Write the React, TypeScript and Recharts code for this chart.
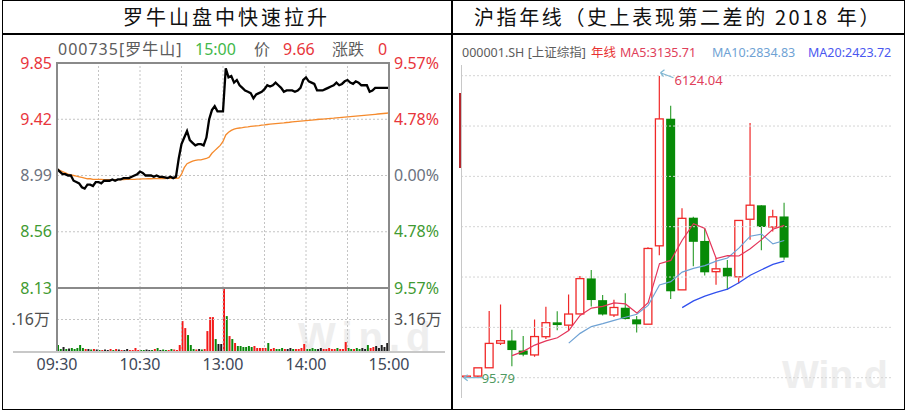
import React from 'react';
import {
  ComposedChart, LineChart, BarChart, Line, Bar, Cell, XAxis, YAxis, ReferenceLine, ReferenceDot,
} from 'recharts';

// ---- left panel: 000735 intraday, two-minute samples from 09:30 ----
const PRICE = [
  9.04, 9.02, 9.00, 9.00, 8.99, 8.99, 8.95, 8.94, 8.93, 8.90,
  8.89, 8.92, 8.92, 8.91, 8.94, 8.94, 8.93, 8.95, 8.95, 8.95,
  8.96, 8.95, 8.96, 8.96, 8.97, 8.97, 8.97, 8.98, 8.99, 9.00,
  9.02, 9.01, 8.99, 8.99, 8.99, 8.98, 8.99, 8.98, 8.98, 8.975,
  8.97, 8.98, 8.97, 8.98, 9.12, 9.23, 9.28, 9.33, 9.26, 9.24,
  9.22, 9.23, 9.23, 9.22, 9.28, 9.42, 9.49, 9.52, 9.48, 9.48,
  9.48, 9.81, 9.74, 9.75, 9.70, 9.72, 9.68, 9.66, 9.64, 9.63,
  9.62, 9.58, 9.61, 9.62, 9.63, 9.65, 9.68, 9.67, 9.68, 9.70,
  9.68, 9.66, 9.63, 9.64, 9.64, 9.64, 9.63, 9.64, 9.66, 9.72,
  9.74, 9.71, 9.70, 9.69, 9.64, 9.64, 9.64, 9.65, 9.66, 9.67,
  9.68, 9.70, 9.68, 9.69, 9.71, 9.72, 9.70, 9.69, 9.71, 9.70,
  9.68, 9.68, 9.68, 9.63, 9.64, 9.66, 9.66, 9.66, 9.66, 9.66,
  9.66,
];

const AVG_PRICE = [
  9.04, 9.03, 9.02, 9.01, 9.00, 8.995, 8.99, 8.985, 8.98, 8.975,
  8.97, 8.965, 8.965, 8.96, 8.96, 8.96, 8.96, 8.958, 8.958, 8.958,
  8.958, 8.958, 8.958, 8.958, 8.958, 8.96, 8.96, 8.96, 8.96, 8.962,
  8.962, 8.964, 8.964, 8.965, 8.965, 8.966, 8.966, 8.967, 8.967, 8.967,
  8.968, 8.968, 8.968, 8.969, 8.97, 9.00, 9.05, 9.08, 9.09, 9.10,
  9.105, 9.11, 9.11, 9.115, 9.12, 9.13, 9.16, 9.18, 9.20, 9.22,
  9.25, 9.30, 9.32, 9.335, 9.345, 9.35, 9.353, 9.356, 9.36, 9.362,
  9.365, 9.368, 9.37, 9.372, 9.375, 9.377, 9.38, 9.382, 9.384, 9.386,
  9.388, 9.39, 9.392, 9.395, 9.397, 9.40, 9.402, 9.404, 9.406, 9.408,
  9.41, 9.412, 9.414, 9.416, 9.418, 9.42, 9.421, 9.423, 9.425, 9.427,
  9.428, 9.43, 9.432, 9.434, 9.436, 9.438, 9.44, 9.442, 9.444, 9.446,
  9.448, 9.45, 9.452, 9.454, 9.456, 9.458, 9.46, 9.462, 9.464, 9.466,
  9.468,
];

// 万手 per two-minute bucket
const VOLUME = [
  0.6, 0.2, 0.4, 0.2, 0.25, 0.3, 0.2, 0.3, 0.6, 0.3, 0.2, 0.2, 0.15, 0.2, 0.15, 0.1,
  0.1, 0.15, 0.1, 0.2, 0.1, 0.2, 0.15, 0.1, 0.1, 0.2, 0.1, 0.1, 0.3, 0.1,
  0.1, 0.1, 0.15, 0.1, 0.1, 0.2, 0.3, 0.1, 0.15, 0.1, 0.1, 0.2, 0.15, 0.1,
  0.6, 3.0, 2.3, 1.6, 0.6, 0.2, 0.15, 0.2, 0.15, 0.2, 2.0, 3.4, 3.4, 1.2, 0.7, 0.7,
  6.3, 3.5, 1.5, 1.2, 0.8, 0.5, 0.5, 0.4, 0.4, 0.5, 0.4, 0.5, 0.3, 0.3, 0.3, 0.3,
  0.8, 0.2, 0.3, 0.2, 0.2, 0.3, 0.2, 0.2, 0.3, 0.2, 0.2, 0.2, 0.3, 0.7, 0.2, 0.2,
  0.3, 0.2, 0.2, 0.3, 0.2, 0.2, 0.3, 0.2, 0.2, 0.3, 0.2, 0.2, 0.9, 0.3, 0.2, 0.2,
  0.3, 0.2, 0.3, 0.2, 0.6, 0.3, 0.4, 0.5, 0.3, 0.6, 0.4, 0.8,
];

const PREV_CLOSE = 8.99;
const PRICE_TICKS = [8.13, 8.56, 8.99, 9.42, 9.85];
const PCT_LABELS = ['9.57%', '4.78%', '0.00%', '4.78%', '9.57%'];
const TIME_TICKS = [0, 60, 120, 180, 240];
const TIME_LABELS = ['09:30', '10:30', '13:00', '14:00', '15:00'];
const GRID_MINUTES = [30, 60, 90, 120, 150, 180, 210];
const VOL_MAX = 6.32;
const VOL_TICK = 3.16;

// ---- right panel: Shanghai Composite yearly candles ----
const YEARS = [
  1990, 1991, 1992, 1993, 1994, 1995, 1996, 1997, 1998, 1999,
  2000, 2001, 2002, 2003, 2004, 2005, 2006, 2007, 2008, 2009,
  2010, 2011, 2012, 2013, 2014, 2015, 2016, 2017, 2018,
];
const OPEN = [
  96.05, 127.61, 293.74, 784.13, 837.7, 637.72, 550.26, 914.06, 1200.95, 1144.89,
  1368.69, 2077.08, 1643.48, 1347.43, 1492.72, 1260.78, 1163.88, 2728.19, 5265.0, 1849.02,
  3289.75, 2825.33, 2212.0, 2289.51, 2109.39, 3258.63, 3536.59, 3105.31, 3314.03,
];
const HIGH = [
  127.61, 292.75, 1429.01, 1558.95, 1052.94, 926.41, 1258.69, 1510.18, 1422.98, 1756.18,
  2125.72, 2245.43, 1748.89, 1649.6, 1783.01, 1328.53, 2698.9, 6124.04, 5522.78, 3478.01,
  3306.75, 3067.46, 2478.38, 2444.8, 3239.36, 5178.19, 3538.69, 3450.49, 3587.03,
];
const LOW = [
  95.79, 104.96, 292.76, 750.46, 325.89, 524.43, 512.83, 870.18, 1043.02, 1047.83,
  1361.21, 1514.86, 1339.2, 1307.4, 1259.43, 998.23, 1161.91, 2541.52, 1664.93, 1844.09,
  2319.74, 2134.02, 1949.46, 1849.65, 1974.38, 2850.71, 2638.3, 3016.53, 2449.2,
];
const CLOSE = [
  127.61, 292.75, 780.39, 833.8, 647.87, 555.29, 917.02, 1194.1, 1146.7, 1366.58,
  2073.48, 1645.97, 1357.65, 1497.04, 1266.5, 1161.06, 2675.47, 5261.56, 1820.81, 3277.14,
  2808.08, 2199.42, 2269.13, 2115.98, 3234.68, 3539.18, 3103.64, 3307.17, 2493.9,
];
const MA5 = [
  null, null, null, null, 536.5, 622.0, 746.9, 829.6, 892.2, 1035.9,
  1339.6, 1485.4, 1518.1, 1588.1, 1568.1, 1385.6, 1591.5, 2372.3, 2437.1, 2839.2,
  3168.6, 3073.4, 2474.9, 2534.0, 2525.5, 2671.7, 2852.5, 3060.1, 3135.7,
];
const MA10 = [
  null, null, null, null, null, null, null, null, null, 786.2,
  980.8, 1116.1, 1173.8, 1240.2, 1302.0, 1362.6, 1538.5, 1945.2, 2012.6, 2203.7,
  2277.1, 2332.5, 2423.6, 2485.5, 2682.3, 2920.1, 2963.0, 2767.5, 2834.8,
];
const MA20 = [
  null, null, null, null, null, null, null, null, null, null,
  null, null, null, null, null, null, null, null, null, 1494.9,
  1629.0, 1724.3, 1798.7, 1862.8, 1992.2, 2141.4, 2250.7, 2356.4, 2423.7,
];
const Y_MIN = 95.79;
const Y_MAX = 6124.04;
const Y_GRID = [95.79, 1100.5, 2105.2, 3110.0, 4114.7, 5119.3, 6124.04];
const EMPTY_SLOTS = 9;

const RED = '#e8353b';
const GREEN = '#3f9a32';
const MID = '#6b7280';
const UP = '#f02828';
const DOWN = '#078a07';
const SANS = "'Noto Sans', 'Noto Sans CJK SC', sans-serif";
const CJK = "'Noto Sans CJK SC', sans-serif";

const minuteRows = PRICE.map((p, i) => ({ t: i * 2, price: p, avg: AVG_PRICE[i] }));
const volumeRows = VOLUME.map((v, i) => ({
  t: i * 2 + 1,
  vol: v,
  color: PRICE[i + 1] > PRICE[i] ? '#f41a1a' : PRICE[i + 1] < PRICE[i] ? '#0a870a' : '#1e1e1e',
}));

const yearRows: any[] = [
  ...YEARS.map((y, i) => ({
    year: String(y),
    open: OPEN[i], high: HIGH[i], low: LOW[i], close: CLOSE[i],
    range: [LOW[i], HIGH[i]],
    ma5: MA5[i], ma10: MA10[i], ma20: MA20[i],
  })),
  ...Array.from({ length: EMPTY_SLOTS }, (_, i) => ({ year: `pad${i}` })),
];

const priceColor = (v: number) => (v > PREV_CLOSE ? RED : v < PREV_CLOSE ? GREEN : MID);

// one tick renders both the price (left) and the percent (right) label
const PriceTick = (p: any) => {
  const v = p.payload.value;
  return (
    <g fontSize={16} fontFamily={SANS} fill={priceColor(v)}>
      <text x={52} y={p.y} dy={5.5} textAnchor="end">{v.toFixed(2)}</text>
      <text x={394} y={p.y} dy={5.5} textAnchor="start">{PCT_LABELS[PRICE_TICKS.indexOf(v)]}</text>
    </g>
  );
};

const VolTick = (p: any) => (
  <g fontSize={16} fontFamily={SANS} fill="#505050">
    <text x={50} y={p.y} dy={5.5} textAnchor="end">.16万</text>
    <text x={394} y={p.y} dy={5.5} textAnchor="start">3.16万</text>
  </g>
);

const Candle = (props: any) => {
  const { x, y, width, height, payload } = props;
  if (!payload || payload.open == null) return null;
  const top = Math.min(y, y + height);
  const h = Math.abs(height);
  const span = payload.high - payload.low || 1;
  const py = (v: number) => top + ((payload.high - v) / span) * h;
  const cx = x + width / 2;
  const up = payload.close >= payload.open;
  const bTop = py(Math.max(payload.open, payload.close));
  const bBot = py(Math.min(payload.open, payload.close));
  const bh = Math.max(bBot - bTop, 1.5);
  if (up) {
    return (
      <g>
        <line x1={cx} x2={cx} y1={top} y2={bTop} stroke={UP} strokeWidth={1.2} />
        <line x1={cx} x2={cx} y1={bTop + bh} y2={top + h} stroke={UP} strokeWidth={1.2} />
        <rect x={x + 0.6} y={bTop} width={width - 1.2} height={bh} fill="#fff" stroke={UP} strokeWidth={1.3} />
      </g>
    );
  }
  return (
    <g>
      <line x1={cx} x2={cx} y1={top} y2={top + h} stroke="#3aa33a" strokeWidth={1.2} />
      <rect x={x} y={bTop} width={width} height={bh} fill={DOWN} />
    </g>
  );
};

const PeakLabel = (p: any) => {
  const vb = p.viewBox || {};
  const cx = vb.x + (vb.width || 0) / 2;
  const cy = vb.y + (vb.height || 0) / 2;
  return (
    <g>
      <path d={`M${cx + 14},${cy + 2} L${cx + 1},${cy - 3} M${cx + 1},${cy - 3} l4,-3 M${cx + 1},${cy - 3} l3,4`}
        stroke="#7fb6d2" strokeWidth={1.2} fill="none" />
      <text x={cx + 15} y={cy + 9} fontSize={13} fill="#e0405a" fontFamily={SANS}>6124.04</text>
    </g>
  );
};

const LowLabel = (p: any) => {
  const vb = p.viewBox || {};
  const cx = vb.x + (vb.width || 0) / 2;
  const cy = vb.y + (vb.height || 0) / 2;
  return (
    <g>
      <path d={`M${cx + 16},${cy} L${cx - 3},${cy} M${cx - 3},${cy} l4,-3 M${cx - 3},${cy} l4,3`}
        stroke="#7fb6d2" strokeWidth={1.2} fill="none" />
      <text x={cx + 15} y={cy + 5} fontSize={13} fill="#4f9a62" fontFamily={SANS}>95.79</text>
    </g>
  );
};

const abs = (s: React.CSSProperties): React.CSSProperties => ({ position: 'absolute', ...s });

export default function App() {
  return (
    <div style={abs({ left: 0, top: 0, width: 907, height: 413, background: '#fff', overflow: 'hidden' })}>
      {/* watermarks */}
      <div style={abs({ left: 298, top: 322, fontSize: 40, lineHeight: '30px', letterSpacing: 6, fontWeight: 700, color: '#eeeeee', fontFamily: "'Liberation Sans', sans-serif" })}>Win.d</div>
      <div style={abs({ left: 782, top: 360, fontSize: 39, lineHeight: '30px', fontWeight: 700, color: '#eeeeee', fontFamily: "'Liberation Sans', sans-serif" })}>Win.d</div>

      {/* titles */}
      <div style={abs({ left: 2, top: 0, width: 449, height: 34, lineHeight: '34px', textAlign: 'center', fontSize: 20, letterSpacing: 3, fontFamily: CJK, color: '#111' })}>罗牛山盘中快速拉升</div>
      <div style={abs({ left: 452, top: 0, width: 452, height: 34, lineHeight: '34px', textAlign: 'center', fontSize: 20, letterSpacing: 2.6, fontFamily: CJK, color: '#111' })}>沪指年线（史上表现第二差的 2018 年）</div>

      {/* left header */}
      <div style={abs({ left: 58, top: 38, fontSize: 16, lineHeight: '22px', fontFamily: SANS, color: '#5c5c5c', whiteSpace: 'nowrap', letterSpacing: 1 })}>000735[罗牛山]</div>
      <div style={abs({ left: 195, top: 38, fontSize: 16, lineHeight: '22px', fontFamily: SANS, color: '#42b84a' })}>15:00</div>
      <div style={abs({ left: 254, top: 38, fontSize: 16, lineHeight: '22px', fontFamily: SANS, color: '#5c5c5c' })}>价</div>
      <div style={abs({ left: 283, top: 38, fontSize: 16, lineHeight: '22px', fontFamily: SANS, color: RED })}>9.66</div>
      <div style={abs({ left: 332, top: 38, fontSize: 16, lineHeight: '22px', fontFamily: SANS, color: '#5c5c5c' })}>涨跌</div>
      <div style={abs({ left: 378, top: 38, fontSize: 16, lineHeight: '22px', fontFamily: SANS, color: RED })}>0</div>

      {/* right header */}
      <div style={abs({ left: 462, top: 44, fontSize: 12.5, lineHeight: '18px', fontFamily: SANS, color: '#5c5c5c', whiteSpace: 'nowrap' })}>000001.SH [上证综指]</div>
      <div style={abs({ left: 591, top: 44, fontSize: 12.5, lineHeight: '18px', fontFamily: SANS, color: '#e83030' })}>年线</div>
      <div style={abs({ left: 620, top: 44, fontSize: 12.5, lineHeight: '18px', fontFamily: SANS, color: '#e0405a' })}>MA5:3135.71</div>
      <div style={abs({ left: 712, top: 44, fontSize: 12.5, lineHeight: '18px', fontFamily: SANS, color: '#6fa2d4' })}>MA10:2834.83</div>
      <div style={abs({ left: 808, top: 44, fontSize: 12.5, lineHeight: '18px', fontFamily: SANS, color: '#4a58f0' })}>MA20:2423.72</div>

      {/* price chart */}
      <div style={abs({ left: 0, top: 0 })}>
        <LineChart width={453} height={300} data={minuteRows} margin={{ top: 63, right: 64, bottom: 12, left: 0 }}>
          <XAxis dataKey="t" type="number" domain={[0, 240]} hide />
          <YAxis type="number" domain={[PRICE_TICKS[0], PRICE_TICKS[4]]} ticks={PRICE_TICKS} interval={0}
            width={57} axisLine={false} tickLine={false} tick={PriceTick} />
          {PRICE_TICKS.slice(1, 4).map((v) => (
            <ReferenceLine key={v} y={v} stroke="#c4c4c4" strokeDasharray="2 2" />
          ))}
          {GRID_MINUTES.map((m) => (
            <ReferenceLine key={m} x={m} stroke="#c4c4c4" strokeDasharray="2 2" />
          ))}
          <Line dataKey="avg" stroke="#f58a2c" strokeWidth={1.3} dot={false} isAnimationActive={false} />
          <Line dataKey="price" stroke="#000" strokeWidth={2.3} dot={false} isAnimationActive={false} />
        </LineChart>
      </div>

      {/* volume chart */}
      <div style={abs({ left: 0, top: 0 })}>
        <BarChart width={453} height={413} data={volumeRows} margin={{ top: 288, right: 64, bottom: 32, left: 0 }}>
          <XAxis dataKey="t" type="number" domain={[0, 240]} ticks={TIME_TICKS} interval={0} height={30}
            axisLine={false} tickLine={false}
            tick={(p: any) => (
              <text x={p.x} y={370} textAnchor="middle" fontSize={16} fontFamily={SANS} fill="#3e4858">
                {TIME_LABELS[TIME_TICKS.indexOf(p.payload.value)]}
              </text>
            )} />
          <YAxis type="number" domain={[0, VOL_MAX]} ticks={[VOL_TICK]} width={57} axisLine={false} tickLine={false} tick={VolTick} />
          <ReferenceLine y={VOL_TICK} stroke="#c4c4c4" strokeDasharray="2 2" />
          {GRID_MINUTES.map((m) => (
            <ReferenceLine key={m} x={m} stroke="#c4c4c4" strokeDasharray="2 2" />
          ))}
          <Bar dataKey="vol" barSize={2} isAnimationActive={false}>
            {volumeRows.map((r, i) => <Cell key={i} fill={r.color} />)}
          </Bar>
        </BarChart>
      </div>

      {/* left plot frame */}
      <div style={abs({ left: 56, top: 62, width: 1.5, height: 290, background: '#8a8a8a' })} />
      <div style={abs({ left: 388, top: 62, width: 1.5, height: 290, background: '#8a8a8a' })} />
      <div style={abs({ left: 56, top: 62, width: 334, height: 1.5, background: '#8a8a8a' })} />
      <div style={abs({ left: 56, top: 287, width: 334, height: 1.5, background: '#8a8a8a' })} />
      <div style={abs({ left: 13, top: 351, width: 432, height: 2, background: '#c8c8c8' })} />

      {/* right chart */}
      <div style={abs({ left: 461, top: 60 })}>
        <ComposedChart width={431} height={340} data={yearRows} margin={{ top: 15.7, right: 0, bottom: 22.3, left: 0 }} barCategoryGap={0}>
          <XAxis dataKey="year" type="category" hide />
          <YAxis type="number" domain={[Y_MIN, Y_MAX]} hide allowDataOverflow />
          {Y_GRID.map((v) => (
            <ReferenceLine key={v} y={v} stroke="#d4d4d4" strokeDasharray="2 2" />
          ))}
          <Bar dataKey="range" barSize={9} shape={Candle} isAnimationActive={false} />
          <Line dataKey="ma20" stroke="#3150ee" strokeWidth={1.3} dot={false} isAnimationActive={false} />
          <Line dataKey="ma10" stroke="#6fa2d4" strokeWidth={1.2} dot={false} isAnimationActive={false} />
          <Line dataKey="ma5" stroke="#e4355a" strokeWidth={1.2} dot={false} isAnimationActive={false} />
          <ReferenceDot x="2007" y={Y_MAX} r={0} fill="none" stroke="none" ifOverflow="visible" label={(p: any) => <PeakLabel {...p} />} />
          <ReferenceDot x="1990" y={Y_MIN} r={0} fill="none" stroke="none" ifOverflow="visible" label={(p: any) => <LowLabel {...p} />} />
        </ComposedChart>
      </div>
      <div style={abs({ left: 461, top: 65, width: 1, height: 333, background: '#c8c8c8' })} />
      <div style={abs({ left: 459, top: 93, width: 1.5, height: 75, background: '#b3262d' })} />

      {/* table frame */}
      <div style={abs({ left: 2, top: 0, width: 903, height: 410, border: '1.5px solid #000', boxSizing: 'border-box' })} />
      <div style={abs({ left: 2, top: 33, width: 903, height: 1.5, background: '#000' })} />
      <div style={abs({ left: 451, top: 0, width: 1.5, height: 410, background: '#000' })} />
    </div>
  );
}
